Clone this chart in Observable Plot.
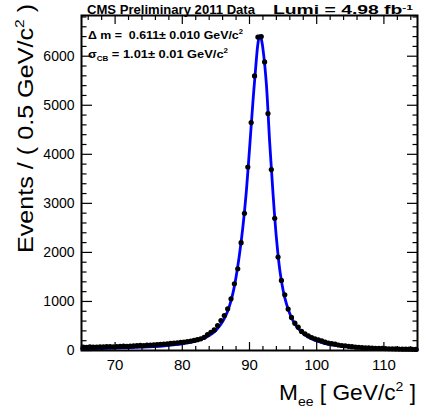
<!DOCTYPE html>
<html>
<head>
<meta charset="utf-8">
<script src="https://cdn.jsdelivr.net/npm/d3@7"></script>
<script src="https://cdn.jsdelivr.net/npm/@observablehq/plot@0.6"></script>
<style>
  html, body { margin: 0; padding: 0; background: #fff; }
  #chart svg { display: block; }
</style>
</head>
<body>
<div id="chart"></div>
<script>
// Data: bin centers (0.5 GeV bins) and events per bin
const binCenters = [
  65.25,65.75,66.25,66.75,67.25,67.75,68.25,68.75,69.25,69.75,
  70.25,70.75,71.25,71.75,72.25,72.75,73.25,73.75,74.25,74.75,
  75.25,75.75,76.25,76.75,77.25,77.75,78.25,78.75,79.25,79.75,
  80.25,80.75,81.25,81.75,82.25,82.75,83.25,83.75,84.25,84.75,
  85.25,85.75,86.25,86.75,87.25,87.75,88.25,88.75,89.25,89.75,
  90.25,90.75,91.25,91.75,92.25,92.75,93.25,93.75,94.25,94.75,
  95.25,95.75,96.25,96.75,97.25,97.75,98.25,98.75,99.25,99.75,
  100.25,100.75,101.25,101.75,102.25,102.75,103.25,103.75,104.25,104.75,
  105.25,105.75,106.25,106.75,107.25,107.75,108.25,108.75,109.25,109.75,
  110.25,110.75,111.25,111.75,112.25,112.75,113.25,113.75,114.25,114.75
];
const events = [
  70,65,72,68,70,75,72,78,80,76,
  82,85,88,86,92,95,98,104,100,108,
  112,115,120,126,130,138,145,150,158,165,
  172,182,192,205,220,239,268,325,372,420,
  508,612,714,851,1055,1361,1667,2198,2796,3741,
  4647,5598,6390,6400,5884,4831,3688,2694,1905,1429,
  1137,845,675,557,476,388,340,300,265,239,
  215,195,170,152,140,128,112,102,95,85,
  78,70,66,60,56,52,48,46,44,42,
  40,36,34,32,30,28,27,26,24,22
];
// Fit curve
const fitMass = [65,67,69,71,73,75,77,79,80,81,82,83,84,85,85.5,86,86.5,87,87.5,88,88.5,89,89.5,90,90.5,91,91.25,91.5,91.75,92,92.5,93,93.5,94,94.5,95,95.5,96,96.5,97,97.5,98,99,100,101,102,103,104,105,106,108,110,112,115];
const fitValue = [35,40,46,53,62,75,92,118,136,160,192,238,305,410,490,590,720,900,1150,1500,1950,2500,3200,4100,5050,5900,6250,6420,6350,6150,5450,4250,3200,2300,1650,1230,950,750,600,490,410,345,255,195,152,122,99,82,68,58,43,33,26,19];

const xMajor = [70,80,90,100,110];
const xMinor = [66,68,72,74,76,78,82,84,86,88,92,94,96,98,102,104,106,108,112,114];
const yMajor = [0,1000,2000,3000,4000,5000,6000];
const yMinor = [200,400,600,800,1200,1400,1600,1800,2200,2400,2600,2800,3200,3400,3600,3800,4200,4400,4600,4800,5200,5400,5600,5800,6200,6400,6600,6800];

const dataRows = binCenters.map((m, i) => ({m, n: events[i]}));
const fitRows = fitMass.map((m, i) => ({m, n: fitValue[i]}));

const font = "'Liberation Sans', Arial, Helvetica, sans-serif";

const chart = Plot.plot({
  width: 422,
  height: 408,
  marginLeft: 81,
  marginRight: 5,
  marginTop: 15,
  marginBottom: 58,
  style: {fontFamily: font, background: "white"},
  x: {domain: [65, 115], label: null},
  y: {domain: [0, 6830], label: null},
  marks: [
    Plot.line(fitRows, {x: "m", y: "n", stroke: "#0000ff", strokeWidth: 2.8, curve: "catmull-rom"}),
    Plot.dot(dataRows, {x: "m", y: "n", r: 2.6, fill: "black", stroke: "none"}),
    // inward ticks (ROOT style)
    Plot.axisX({anchor: "bottom", ticks: xMajor, tickSize: -8, text: null, label: null, strokeWidth: 1.2}),
    Plot.axisX({anchor: "bottom", ticks: xMinor, tickSize: -4, text: null, label: null, strokeWidth: 1.2}),
    Plot.axisX({anchor: "top", ticks: xMajor, tickSize: -8, text: null, label: null, strokeWidth: 1.2}),
    Plot.axisX({anchor: "top", ticks: xMinor, tickSize: -4, text: null, label: null, strokeWidth: 1.2}),
    Plot.axisY({anchor: "left", ticks: yMajor, tickSize: -11, text: null, label: null, strokeWidth: 1.2}),
    Plot.axisY({anchor: "left", ticks: yMinor, tickSize: -5.5, text: null, label: null, strokeWidth: 1.2}),
    Plot.axisY({anchor: "right", ticks: yMajor, tickSize: -11, text: null, label: null, strokeWidth: 1.2}),
    Plot.axisY({anchor: "right", ticks: yMinor, tickSize: -5.5, text: null, label: null, strokeWidth: 1.2}),
    // tick labels
    Plot.axisX({anchor: "bottom", ticks: xMajor, tickSize: 0, tickPadding: 9, fontSize: 15, label: null, tickFormat: d => String(d)}),
    Plot.axisY({anchor: "left", ticks: yMajor, tickSize: 0, tickPadding: 7, fontSize: 14, label: null, tickFormat: d => String(d)}),
    Plot.frame({stroke: "black", strokeWidth: 2})
  ]
});
document.getElementById("chart").appendChild(chart);

// Rich text labels (sub/superscripts)
const svg = d3.select(chart);
function richText(parts, x, y, opts) {
  const t = svg.append("text")
    .attr("font-family", font)
    .attr("font-size", opts.size)
    .attr("font-weight", opts.weight || "normal")
    .attr("text-anchor", opts.anchor || "start")
    .attr("fill", "black");
  if (opts.rotate) t.attr("transform", `translate(${x},${y}) rotate(${opts.rotate})`);
  else t.attr("x", x).attr("y", y);
  if (opts.length) t.attr("textLength", opts.length).attr("lengthAdjust", "spacingAndGlyphs");
  const supShift = opts.supShift ?? 0.42;
  let prev = 0;
  for (const p of parts) {
    const shift = p.sup ? -opts.size * supShift : p.sub ? opts.size * 0.25 : 0;
    const ts = t.append("tspan").text(p.t).attr("dy", shift - prev);
    if (p.sup || p.sub) ts.attr("font-size", opts.size * 0.62);
    prev = shift;
  }
  return t;
}

richText([{t: "CMS Preliminary 2011 Data"}], 87, 14, {size: 13, weight: "bold", length: 168});
richText([{t: "Lumi = 4.98 fb"}, {t: "-1", sup: true}], 273, 14, {size: 13, weight: "bold", length: 140, supShift: 0.34});
richText([{t: "\u0394 m =  0.611\u00b1 0.010 GeV/c"}, {t: "2", sup: true}], 88, 39, {size: 11, weight: "bold", length: 155});
richText([{t: "\u03c3"}, {t: "CB", sub: true}, {t: " = 1.01\u00b1 0.01 GeV/c"}, {t: "2", sup: true}], 88, 58, {size: 11, weight: "bold", length: 140});
richText([{t: "Events / ( 0.5 GeV/c"}, {t: "2", sup: true}, {t: " )"}], 33, 4, {size: 22, anchor: "end", rotate: -90, length: 249});
richText([{t: "M"}, {t: "ee", sub: true}, {t: " [ GeV/c"}, {t: "2", sup: true}, {t: " ]"}], 416, 400, {size: 22, anchor: "end", length: 137});
</script>
</body>
</html>
